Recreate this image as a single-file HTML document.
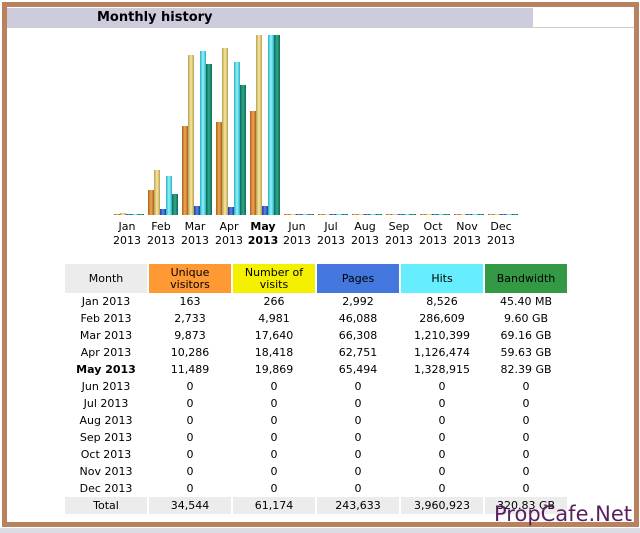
<!DOCTYPE html>
<html><head><meta charset="utf-8"><style>
body{margin:0;width:640px;height:533px;background:#fff;position:relative;overflow:hidden;font-family:"DejaVu Sans","Liberation Sans",sans-serif;}
.a{position:absolute}
.bar{position:absolute;width:6px;bottom:318px}
.lbl{position:absolute;top:220px;width:34px;text-align:center;font-size:11px;line-height:14px;color:#000}
table{position:absolute;left:63px;top:264px;border-collapse:separate;border-spacing:2px 0;font-size:11px;color:#000}
td{width:82px;text-align:center;height:17px;padding:0;line-height:17px}
th{font-weight:normal;height:29px;line-height:12px;padding:0;width:82px}
.t td{background:#ececec}
</style></head><body>
<div class="a" style="left:0;top:528px;width:640px;height:5px;background:#dcdce4"></div>
<div class="a" style="left:2px;top:2px;width:627px;height:515px;border:5px solid #b8825e"></div>
<div class="a" style="left:7px;top:8px;width:526px;height:20px;background:#ccccdd"></div>
<div class="a" style="left:533px;top:27px;width:101px;height:1px;background:#ccc"></div>
<div class="a" style="left:97px;top:10px;font-size:13px;font-weight:bold;line-height:16px">Monthly history</div>
<div id="bars"></div>
<div class="lbl" style="left:110px">Jan<br>2013</div>
<div class="lbl" style="left:144px">Feb<br>2013</div>
<div class="lbl" style="left:178px">Mar<br>2013</div>
<div class="lbl" style="left:212px">Apr<br>2013</div>
<div class="lbl" style="left:246px;font-weight:bold">May<br>2013</div>
<div class="lbl" style="left:280px">Jun<br>2013</div>
<div class="lbl" style="left:314px">Jul<br>2013</div>
<div class="lbl" style="left:348px">Aug<br>2013</div>
<div class="lbl" style="left:382px">Sep<br>2013</div>
<div class="lbl" style="left:416px">Oct<br>2013</div>
<div class="lbl" style="left:450px">Nov<br>2013</div>
<div class="lbl" style="left:484px">Dec<br>2013</div>
<table>
<tr><th style="background:#ececec">Month</th><th style="background:#ff9933">Unique<br>visitors</th><th style="background:#f4f000">Number of<br>visits</th><th style="background:#4477dd">Pages</th><th style="background:#66eeff">Hits</th><th style="background:#339944">Bandwidth</th></tr>
<tr><td>Jan 2013</td><td>163</td><td>266</td><td>2,992</td><td>8,526</td><td>45.40 MB</td></tr>
<tr><td>Feb 2013</td><td>2,733</td><td>4,981</td><td>46,088</td><td>286,609</td><td>9.60 GB</td></tr>
<tr><td>Mar 2013</td><td>9,873</td><td>17,640</td><td>66,308</td><td>1,210,399</td><td>69.16 GB</td></tr>
<tr><td>Apr 2013</td><td>10,286</td><td>18,418</td><td>62,751</td><td>1,126,474</td><td>59.63 GB</td></tr>
<tr><td style="font-weight:bold">May 2013</td><td>11,489</td><td>19,869</td><td>65,494</td><td>1,328,915</td><td>82.39 GB</td></tr>
<tr><td>Jun 2013</td><td>0</td><td>0</td><td>0</td><td>0</td><td>0</td></tr>
<tr><td>Jul 2013</td><td>0</td><td>0</td><td>0</td><td>0</td><td>0</td></tr>
<tr><td>Aug 2013</td><td>0</td><td>0</td><td>0</td><td>0</td><td>0</td></tr>
<tr><td>Sep 2013</td><td>0</td><td>0</td><td>0</td><td>0</td><td>0</td></tr>
<tr><td>Oct 2013</td><td>0</td><td>0</td><td>0</td><td>0</td><td>0</td></tr>
<tr><td>Nov 2013</td><td>0</td><td>0</td><td>0</td><td>0</td><td>0</td></tr>
<tr><td>Dec 2013</td><td>0</td><td>0</td><td>0</td><td>0</td><td>0</td></tr>
<tr class="t"><td>Total</td><td>34,544</td><td>61,174</td><td>243,633</td><td>3,960,923</td><td>320.83 GB</td></tr>
</table>
<div class="a" style="left:494px;top:500px;font-size:21px;color:#5a1f5e;font-family:'DejaVu Sans',sans-serif;line-height:28px">PropCafe.Net</div>
<script>
var u=[163,2733,9873,10286,11489],v=[266,4981,17640,18418,19869],p=[2992,46088,66308,62751,65494],h=[8526,286609,1210399,1126474,1328915],b=[0.0454,9.6,69.16,59.63,82.39];
var cols=['linear-gradient(90deg,#a8601c,#f0a850,#a8601c)','linear-gradient(90deg,#b8a050,#f8e8a0,#b8a050)','linear-gradient(90deg,#1a3e9a,#5588ee,#1a3e9a)','linear-gradient(90deg,#2ab0c0,#90f4ff,#2ab0c0)','linear-gradient(90deg,#0d6a50,#30a890,#0d6a50)'];
var s='';
for(var i=0;i<12;i++){
 var x=114+34*i;
 var hs=i<5?[u[i]/19869*180,v[i]/19869*180,p[i]/1328915*180,h[i]/1328915*180,b[i]/82.39*180]:[0,0,0,0,0];
 for(var k=0;k<5;k++){var H=Math.max(1,Math.round(hs[k]));s+='<div class="bar" style="left:'+(x+6*k)+'px;height:'+H+'px;background:'+cols[k]+'"></div>';}
}
document.getElementById('bars').innerHTML=s;
</script>
</body></html>
